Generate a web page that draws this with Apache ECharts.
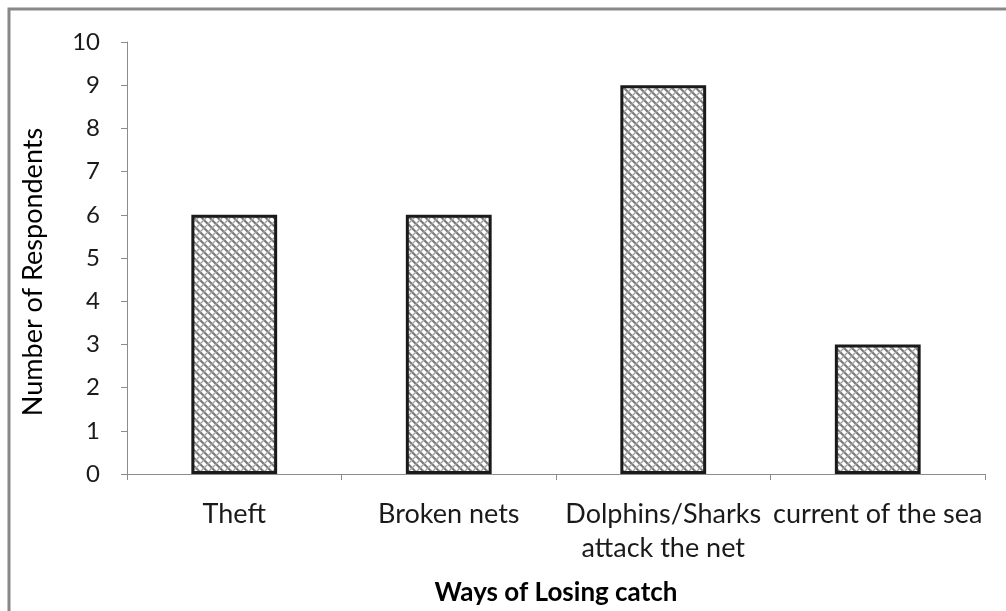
<!DOCTYPE html>
<html><head><meta charset="utf-8">
<script src="https://cdn.jsdelivr.net/npm/echarts@6/dist/echarts.min.js"></script>
<style>html,body{margin:0;padding:0;background:#fff}#c{width:1006px;height:611px}</style>
</head><body><div id="c"></div>
<script>
const categories = ['Theft', 'Broken nets', 'Dolphins/Sharks\nattack the net', 'current of the sea'];
const values = [6, 6, 9, 3];
const yTicks = [0, 1, 2, 3, 4, 5, 6, 7, 8, 9, 10];

function makePattern() {
  const s = 16;
  const c = document.createElement('canvas');
  c.width = s; c.height = s;
  const g = c.getContext('2d');
  g.fillStyle = '#ffffff'; g.fillRect(0, 0, s, s);
  g.strokeStyle = '#7a7a7a'; g.lineWidth = 2.2;
  g.beginPath();
  for (let k = -s; k <= 2 * s; k += s / 2) { g.moveTo(k, 0); g.lineTo(k + s, s); }
  g.stroke();
  g.strokeStyle = '#a0a0a0'; g.lineWidth = 1.4;
  g.beginPath();
  for (let k = -s; k <= 2 * s; k += s / 2) { g.moveTo(k, s); g.lineTo(k + s, 0); }
  g.stroke();
  return c;
}

const chart = echarts.init(document.getElementById('c'), null, {renderer: 'canvas'});
const font = 'Lato, "Open Sans", sans-serif';
chart.setOption({
  animation: false,
  backgroundColor: '#fff',
  grid: {left: 127, right: 21, top: 42, bottom: 137},
  xAxis: {
    type: 'category', data: categories,
    axisLine: {lineStyle: {color: '#8c8c8c', width: 1}},
    axisTick: {show: true, length: 6, lineStyle: {color: '#8c8c8c'}},
    axisLabel: {color: '#1a1a1a', fontSize: 27, fontFamily: font, margin: 23, lineHeight: 34, interval: 0},
    name: 'Ways of Losing catch', nameLocation: 'middle', nameGap: 106,
    nameTextStyle: {color: '#000', fontSize: 26, fontWeight: 'bold', fontFamily: font}
  },
  yAxis: {
    type: 'value', min: yTicks[0], max: yTicks[yTicks.length - 1], interval: 1,
    axisLine: {show: true, lineStyle: {color: '#8c8c8c', width: 1}},
    axisTick: {show: true, length: 6, lineStyle: {color: '#8c8c8c'}},
    splitLine: {show: false},
    axisLabel: {color: '#1a1a1a', fontSize: 24, fontFamily: font, margin: 27}
  },
  series: [{
    type: 'bar', data: values, barWidth: '40%',
    itemStyle: {color: {image: makePattern(), repeat: 'repeat'}, borderColor: '#1a1a1a', borderWidth: 3}
  }],
  graphic: [
    {type: 'rect', shape: {x: 9, y: 9, width: 1020, height: 640}, style: {fill: 'none', stroke: '#888', lineWidth: 3}, silent: true},
    {type: 'text', x: 33, y: 272, rotation: Math.PI / 2,
     style: {text: 'Number of Respondents', fill: '#000', font: '27px ' + font, textAlign: 'center', textVerticalAlign: 'middle'}}
  ]
});
</script></body></html>
